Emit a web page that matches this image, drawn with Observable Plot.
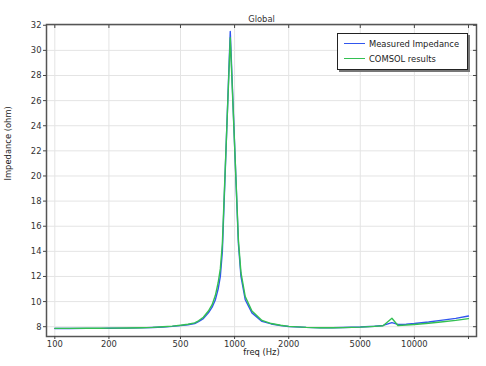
<!DOCTYPE html>
<html>
<head>
<meta charset="utf-8">
<script src="https://cdn.jsdelivr.net/npm/d3@7"></script>
<script src="https://cdn.jsdelivr.net/npm/@observablehq/plot@0.6"></script>
<style>
  html, body { margin: 0; padding: 0; background: #fff; }
  #wrap { position: relative; width: 486px; height: 366px; font-family: "DejaVu Sans Condensed", "DejaVu Sans", sans-serif; font-stretch: condensed; }
  #legend { position: absolute; left: 337px; top: 33px; width: 129px; height: 35px; border: 1px solid #222; box-shadow: 2px 2px 0 #777; background: #fff; font-size: 9.3px; color: #222; }
  .row { position: absolute; left: 0; height: 12px; display: flex; align-items: center; }
  .sw { width: 21px; height: 0; border-top: 1.3px solid; margin-left: 6px; margin-right: 4px; }
</style>
</head>
<body>
<div id="wrap"></div>
<script>
// ---- data ----
const seriesNames = ["Measured Impedance", "COMSOL results"];
const seriesColors = ["#3156ee", "#33c052"];

const measuredFreq = [100,120,150,180,200,250,300,350,400,450,500,550,600,630,670,715,750,782,810,833,855,946,1050,1085,1146,1249,1420,1600,1800,2000,2500,3000,3500,4000,5000,6000,6700,7500,8100,9000,10000,12000,14000,17000,20000];
const measuredZ    = [7.86,7.86,7.87,7.87,7.88,7.89,7.91,7.94,7.98,8.03,8.09,8.16,8.25,8.40,8.65,9.10,9.55,10.15,11.0,12.0,14.0,31.5,14.6,12.0,10.15,9.1,8.42,8.22,8.1,8.02,7.95,7.92,7.92,7.94,7.98,8.04,8.1,8.32,8.18,8.2,8.25,8.37,8.5,8.66,8.85];

const comsolFreq = [100,120,150,180,200,250,300,350,400,450,500,550,600,630,670,715,750,782,810,833,855,946,1050,1085,1146,1249,1420,1600,1800,2000,2500,3000,3500,4000,5000,6000,6700,7500,8100,9000,10000,12000,14000,17000,20000];
const comsolZ    = [7.87,7.87,7.88,7.88,7.89,7.90,7.92,7.95,8.0,8.05,8.12,8.2,8.3,8.47,8.75,9.25,9.75,10.5,11.5,12.6,14.6,31.0,14.9,12.3,10.4,9.25,8.5,8.25,8.12,8.03,7.95,7.92,7.92,7.93,7.97,8.03,8.08,8.67,8.1,8.13,8.18,8.28,8.38,8.5,8.64];

const xTicks = [100,200,500,1000,2000,5000,10000,20000];
const xTickLabels = ["100","200","500","1000","2000","5000","10000",""];
const yTicks = [8,10,12,14,16,18,20,22,24,26,28,30,32];

const title = "Global";
const xLabel = "freq (Hz)";
const yLabel = "Impedance (ohm)";

// ---- table ----
const data = [
  ...measuredFreq.map((f, i) => ({f, z: measuredZ[i], s: seriesNames[0]})),
  ...comsolFreq.map((f, i) => ({f, z: comsolZ[i], s: seriesNames[1]}))
];
const xLabelRows = xTicks.map((v, i) => ({v, label: xTickLabels[i]}));

const font = "DejaVu Sans Condensed, DejaVu Sans, sans-serif";

const chart = Plot.plot({
  width: 486,
  height: 366,
  marginLeft: 46,
  marginRight: 10,
  marginTop: 24,
  marginBottom: 30,
  style: {fontFamily: font, fontSize: "9.3px", color: "#333", background: "#fff", fontStretch: "condensed"},
  x: {type: "log", domain: [89.9, 22160]},
  y: {domain: [7.22, 32.06]},
  color: {domain: seriesNames, range: seriesColors},
  marks: [
    Plot.gridX(xTicks, {stroke: "#e4e4e4", strokeOpacity: 1, strokeWidth: 1}),
    Plot.gridY(yTicks, {stroke: "#e4e4e4", strokeOpacity: 1, strokeWidth: 1}),
    Plot.line(data.filter(d => d.s === seriesNames[0]), {x: "f", y: "z", stroke: "s", strokeWidth: 1.4}),
    Plot.line(data.filter(d => d.s === seriesNames[1]), {x: "f", y: "z", stroke: "s", strokeWidth: 1.4}),
    Plot.frame({stroke: "#555", strokeWidth: 1.5}),
    Plot.axisX(xTicks, {anchor: "bottom", tickSize: 3, tickFormat: () => "", label: null, stroke: "#444"}),
    Plot.text(xLabelRows, {x: "v", text: "label", frameAnchor: "bottom", dy: 10, fill: "#333", fontSize: 9.3}),
    Plot.axisX(xTicks, {anchor: "top", tickSize: -3, tickFormat: () => "", label: null, stroke: "#444"}),
    Plot.axisY(yTicks, {anchor: "left", tickSize: 3, tickPadding: 2, label: null, stroke: "#444", fill: "#333"}),
    Plot.axisY(yTicks, {anchor: "right", tickSize: -4, tickFormat: () => "", label: null, stroke: "#444"}),
    Plot.text([title], {frameAnchor: "top", dy: -9, fill: "#333", fontSize: 9.3}),
    Plot.text([xLabel], {frameAnchor: "bottom", dy: 18, fill: "#222", fontSize: 9.3}),
    Plot.text([yLabel], {frameAnchor: "left", dx: -38, rotate: -90, fill: "#222", fontSize: 9.3})
  ]
});

const wrap = document.getElementById("wrap");
wrap.appendChild(chart);

// legend
const legend = document.createElement("div");
legend.id = "legend";
seriesNames.forEach((name, i) => {
  const row = document.createElement("div");
  row.className = "row";
  row.style.top = (3 + i * 15.6) + "px";
  const sw = document.createElement("span");
  sw.className = "sw";
  sw.style.borderTopColor = seriesColors[i];
  const t = document.createElement("span");
  t.textContent = name;
  row.appendChild(sw);
  row.appendChild(t);
  legend.appendChild(row);
});
wrap.appendChild(legend);
</script>
</body>
</html>
